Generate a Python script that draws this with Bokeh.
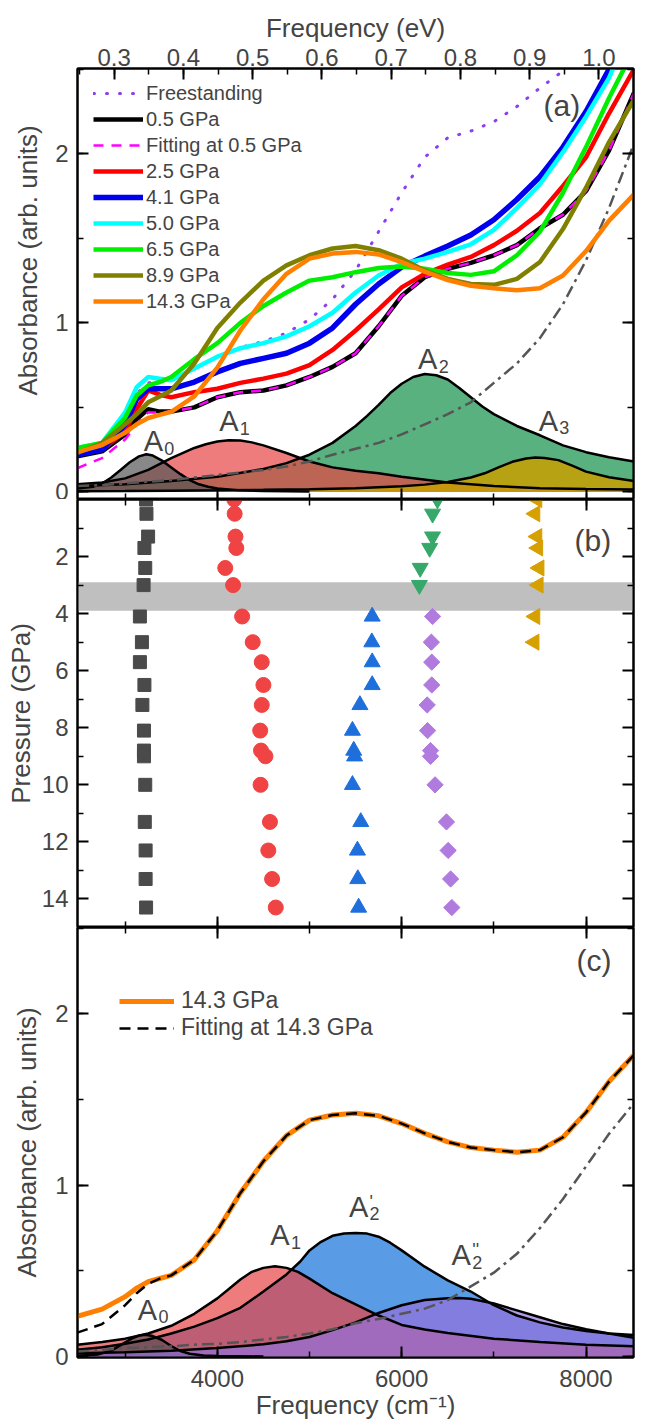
import numpy as np
from bokeh.plotting import figure
from bokeh.models import (Range1d, LinearAxis, SingleIntervalTicker, FixedTicker,
                          PrintfTickFormatter, Legend, LegendItem, Label, BoxAnnotation, Title)
from bokeh.layouts import column
from bokeh.embed import file_html
from bokeh.resources import INLINE

FONT = "Liberation Sans"

# ---------------- data ----------------
freq = [2480, 2750, 3000, 3125, 3250, 3375, 3500, 3750, 4000, 4250, 4500, 4750, 5000,
        5250, 5500, 5750, 6000, 6250, 6500, 6750, 7000, 7250, 7500, 7750, 8000, 8250, 8520]

abs_free = [0.245, 0.28, 0.44, 0.58, 0.645, 0.65, 0.66, 0.73, 0.80, 0.855, 0.89, 0.94, 1.02,
            1.14, 1.31, 1.54, 1.77, 1.98, 2.095, 2.135, 2.19, 2.28, 2.39, 2.49, 2.6, 2.72, 2.85]
abs_05 = [0.21, 0.24, 0.34, 0.43, 0.49, 0.475, 0.475, 0.50, 0.56, 0.59, 0.60, 0.63, 0.68,
          0.74, 0.82, 0.98, 1.16, 1.27, 1.32, 1.355, 1.40, 1.46, 1.56, 1.64, 1.78, 2.02, 2.36]
fit_05 = [0.14, 0.20, 0.31, 0.40, 0.47, 0.47, 0.475, 0.50, 0.56, 0.59, 0.60, 0.63, 0.68,
          0.74, 0.82, 0.98, 1.16, 1.27, 1.32, 1.355, 1.40, 1.46, 1.56, 1.64, 1.78, 2.02, 2.36]
abs_25 = [0.22, 0.25, 0.36, 0.49, 0.60, 0.575, 0.56, 0.59, 0.61, 0.645, 0.67, 0.70, 0.75,
          0.84, 0.955, 1.08, 1.21, 1.29, 1.345, 1.39, 1.46, 1.545, 1.65, 1.81, 1.98, 2.24, 2.5]
abs_41 = [0.22, 0.25, 0.40, 0.55, 0.61, 0.61, 0.61, 0.65, 0.71, 0.76, 0.79, 0.82, 0.88,
          0.97, 1.11, 1.23, 1.33, 1.395, 1.455, 1.52, 1.61, 1.73, 1.865, 2.04, 2.25, 2.50, 2.9]
abs_50 = [0.26, 0.29, 0.47, 0.62, 0.68, 0.67, 0.66, 0.73, 0.80, 0.85, 0.88, 0.92, 0.98,
          1.06, 1.18, 1.28, 1.35, 1.38, 1.42, 1.465, 1.55, 1.68, 1.82, 2.01, 2.22, 2.45, 2.8]
abs_65 = [0.26, 0.29, 0.44, 0.57, 0.63, 0.65, 0.68, 0.785, 0.88, 1.0, 1.10, 1.18, 1.25,
          1.27, 1.30, 1.325, 1.333, 1.32, 1.295, 1.284, 1.305, 1.40, 1.54, 1.77, 2.04, 2.33, 2.62]
abs_89 = [0.23, 0.29, 0.40, 0.46, 0.53, 0.565, 0.60, 0.76, 0.97, 1.12, 1.25, 1.34, 1.40,
          1.44, 1.455, 1.43, 1.38, 1.31, 1.26, 1.23, 1.225, 1.26, 1.36, 1.555, 1.80, 2.07, 2.32]
abs_143 = [0.235, 0.277, 0.35, 0.40, 0.437, 0.456, 0.474, 0.565, 0.735, 0.955, 1.14, 1.29, 1.38,
           1.41, 1.42, 1.405, 1.36, 1.303, 1.253, 1.22, 1.205, 1.193, 1.205, 1.28, 1.425, 1.605, 1.76]
fit_143 = [0.14, 0.19, 0.30, 0.37, 0.425, 0.455, 0.474, 0.565, 0.735, 0.955, 1.14, 1.29, 1.38,
           1.41, 1.42, 1.405, 1.36, 1.303, 1.253, 1.22, 1.205, 1.193, 1.205, 1.28, 1.425, 1.605, 1.76]

# fitted background (dash-dot)
bg_a = [0.035, 0.04, 0.05, 0.055, 0.06, 0.065, 0.07, 0.085, 0.10, 0.115, 0.13, 0.15, 0.18,
        0.22, 0.255, 0.29, 0.34, 0.40, 0.46, 0.53, 0.645, 0.76, 0.91, 1.11, 1.37, 1.68, 2.06]
bg_c = [0.03, 0.04, 0.05, 0.052, 0.055, 0.058, 0.06, 0.07, 0.075, 0.085, 0.10, 0.115, 0.135,
        0.16, 0.195, 0.22, 0.25, 0.28, 0.33, 0.41, 0.49, 0.60, 0.75, 0.92, 1.11, 1.30, 1.48]

# fitted components, 0.5 GPa (panel a)
freq_a0 = [2480, 2650, 2750, 2850, 2950, 3050, 3150, 3230, 3300, 3400, 3500, 3600, 3700,
           3800, 3900, 4000, 4250, 4500, 5000]
comp_a_A0 = [0.02, 0.03, 0.05, 0.085, 0.13, 0.175, 0.21, 0.223, 0.215, 0.185, 0.145, 0.105,
             0.07, 0.045, 0.03, 0.02, 0.009, 0.005, 0.002]
freq_a1 = [2480, 2750, 3000, 3250, 3500, 3750, 3875, 4000, 4125, 4250, 4375, 4500, 4750, 5000,
           5250, 5500, 5750, 6000, 6500, 7000, 7500, 8000, 8520]
comp_a_A1 = [0.045, 0.055, 0.08, 0.13, 0.20, 0.26, 0.282, 0.298, 0.306, 0.304, 0.293, 0.275,
             0.23, 0.18, 0.145, 0.125, 0.11, 0.09, 0.055, 0.035, 0.022, 0.017, 0.014]
freq_a2 = [2480, 3000, 3500, 4000, 4500, 4750, 5000, 5250, 5500, 5625, 5750, 5875, 6000, 6125,
           6250, 6375, 6500, 6625, 6750, 6875, 7000, 7250, 7500, 7750, 8000, 8250, 8520]
comp_a_A2 = [0.035, 0.045, 0.065, 0.09, 0.135, 0.17, 0.22, 0.29, 0.39, 0.45, 0.515, 0.585, 0.64,
             0.68, 0.697, 0.69, 0.665, 0.615, 0.56, 0.505, 0.46, 0.39, 0.335, 0.275, 0.235, 0.205, 0.18]
freq_a3 = [2480, 3000, 3500, 4000, 4500, 5000, 5500, 6000, 6250, 6500, 6750, 6900, 7050, 7200,
           7350, 7450, 7550, 7700, 7850, 8000, 8250, 8520]
comp_a_A3 = [0.004, 0.005, 0.007, 0.009, 0.012, 0.016, 0.022, 0.033, 0.043, 0.058, 0.085, 0.11,
             0.145, 0.178, 0.198, 0.203, 0.2, 0.188, 0.155, 0.12, 0.087, 0.065]

# fitted components, 14.3 GPa (panel c)
freq_c0 = [2480, 2700, 2850, 2960, 3070, 3150, 3220, 3300, 3400, 3500, 3600, 3700, 3850, 4000, 4500]
comp_c_A0 = [0.005, 0.012, 0.035, 0.07, 0.105, 0.123, 0.128, 0.12, 0.097, 0.062, 0.033, 0.017,
             0.007, 0.004, 0.001]
freq_c1 = [2480, 2750, 3000, 3250, 3500, 3750, 4000, 4125, 4250, 4375, 4500, 4625, 4750, 4875,
           5000, 5250, 5500, 5750, 6000, 6250, 6500, 7000, 7500, 8000, 8520]
comp_c_A1 = [0.07, 0.085, 0.105, 0.135, 0.18, 0.25, 0.34, 0.395, 0.45, 0.495, 0.518, 0.527, 0.518,
             0.495, 0.455, 0.37, 0.305, 0.24, 0.185, 0.158, 0.138, 0.105, 0.085, 0.07, 0.06]
freq_c2 = [2480, 2750, 3000, 3250, 3500, 3750, 4000, 4250, 4500, 4750, 4900, 5000, 5125, 5250,
           5375, 5500, 5625, 5750, 5875, 6000, 6250, 6500, 6750, 7000, 7250, 7500, 7750, 8000,
           8250, 8520]
comp_c_A2p = [0.04, 0.055, 0.075, 0.10, 0.135, 0.175, 0.225, 0.285, 0.38, 0.48, 0.555, 0.62, 0.67,
              0.705, 0.718, 0.722, 0.718, 0.70, 0.665, 0.62, 0.525, 0.445, 0.38, 0.30, 0.24, 0.20,
              0.17, 0.15, 0.135, 0.126]
freq_c3 = [2480, 3000, 3500, 4000, 4500, 4750, 5000, 5250, 5500, 5750, 6000, 6250, 6500, 6625,
           6750, 7000, 7250, 7500, 7750, 8000, 8250, 8520]
comp_c_A2pp = [0.02, 0.025, 0.035, 0.05, 0.072, 0.09, 0.115, 0.155, 0.20, 0.255, 0.30, 0.33,
               0.341, 0.342, 0.338, 0.31, 0.27, 0.23, 0.19, 0.16, 0.135, 0.11]

# panel b: peak positions vs pressure
P_all = [0.0, 0.5, 1.3, 1.7, 2.4, 3.0, 4.1, 5.0, 5.7, 6.5, 7.2, 8.1, 8.8, 9.0, 10.0, 11.3, 12.3, 13.3, 14.3]
F_A0 = [3227, 3231, 3249, 3209, 3218, 3200, 3160, 3182, 3160, 3209, 3187, 3204, 3204, 3204, 3218,
        3213, 3222, 3222, 3227]
F_A1 = [4184, 4188, 4197, 4206, 4086, 4171, 4269, 4384, 4482, 4500, 4482, 4465, 4474, 4522, 4469,
        4571, 4553, 4594, 4634]
P_low = [0.0, 0.5, 1.3, 1.7, 2.4, 3.0]
F_A2 = [6388, 6335, 6335, 6304, 6201, 6192]
P_A3 = [0.0, 0.5, 1.3, 1.7, 2.4, 3.0, 4.1, 5.0]
F_A3 = [7470, 7448, 7470, 7479, 7493, 7484, 7448, 7439]
P_high = [4.1, 5.0, 5.7, 6.5, 7.2, 8.1, 8.8, 9.0, 10.0, 11.3, 12.3, 13.3, 14.3]
F_A2p = [5680, 5676, 5680, 5680, 5547, 5466, 5480, 5489, 5466, 5556, 5520, 5524, 5533]
F_A2pp = [6335, 6322, 6326, 6326, 6277, 6281, 6313, 6313, 6362, 6486, 6504, 6531, 6544]
band_lo, band_hi = 2.9, 3.9
p_ticks = [2, 4, 6, 8, 10, 12, 14]
p_minor = [1, 3, 5, 7, 9, 11, 13, 15]

# ---------------- helpers ----------------
W = 641
x_rng = Range1d(2483, 8515)
ev_rng = Range1d(0.247, 1.05)
TICK_FS = "24px"


def base_fig(h, y_rng, top, bottom):
    p = figure(width=W, height=h, x_range=x_rng, y_range=y_rng, output_backend="svg",
               toolbar_location=None, x_axis_location=None, y_axis_location=None,
               min_border_left=76, min_border_right=8, min_border_top=top,
               min_border_bottom=bottom)
    p.outline_line_color = "black"
    p.outline_line_width = 2
    p.outline_line_alpha = 1
    p.grid.visible = False
    return p


def axis(ticker, labels, standoff=9, **kw):
    ax = LinearAxis(ticker=ticker, **kw)
    ax.axis_line_width = 2
    ax.major_tick_in = 11
    ax.major_tick_out = 0
    ax.minor_tick_in = 6
    ax.minor_tick_out = 0
    ax.major_tick_line_width = 2
    ax.minor_tick_line_width = 1.5
    ax.major_label_text_font = FONT
    ax.axis_label_text_font = FONT
    ax.axis_label_text_font_style = "normal"
    ax.axis_label_text_font_size = "26px"
    ax.axis_label_standoff = 0
    if labels:
        ax.major_label_text_font_size = TICK_FS
        ax.major_label_standoff = standoff
    else:
        ax.major_label_text_font_size = "1px"
        ax.major_label_text_color = None
        ax.major_label_standoff = 0
    return ax


def xt():
    return SingleIntervalTicker(interval=2000, num_minor_ticks=2)


def yt(step):
    return SingleIntervalTicker(interval=step, num_minor_ticks=2)


def pt():
    return FixedTicker(ticks=p_ticks, minor_ticks=p_minor)


LBL_SHIFT = 11  # compensates the baseline placement of the peak labels


def peak_label(p, xs, ys, sub, dx, dy, prime=None):
    i = int(np.argmax(ys))
    x0, y0 = xs[i], ys[i]
    dy = dy + LBL_SHIFT
    p.add_layout(Label(x=x0, y=y0, x_offset=dx, y_offset=dy, text="A", text_font=FONT,
                       text_font_size="29px", text_align="center", text_baseline="alphabetic"))
    p.add_layout(Label(x=x0, y=y0, x_offset=dx + 11, y_offset=dy - 7, text=sub, text_font=FONT,
                       text_font_size="18px", text_align="left", text_baseline="alphabetic"))
    if prime:
        p.add_layout(Label(x=x0, y=y0, x_offset=dx + 11, y_offset=dy + 5, text=prime,
                           text_font=FONT, text_font_size="18px", text_align="left",
                           text_baseline="alphabetic"))


def panel_tag(p, text, x, y):
    p.add_layout(Label(x=x, y=y, x_units="screen", y_units="screen", text=text, text_font=FONT,
                       text_font_size="30px", text_align="left", text_baseline="middle"))


def style_legend(leg, fs, gw, lh, standoff):
    leg.label_text_font = FONT
    leg.label_text_font_size = fs
    leg.glyph_width = gw
    leg.glyph_height = 20
    leg.label_height = lh
    leg.label_standoff = standoff
    leg.spacing = 0
    leg.padding = 0
    leg.margin = 0
    leg.border_line_color = None
    leg.background_fill_alpha = 0


# ---------------- panel (a) ----------------
pa = base_fig(499, Range1d(-0.045, 2.505), 68, 0)
pa.extra_x_ranges = {"ev": ev_rng}
top_ax = axis(SingleIntervalTicker(interval=0.1, num_minor_ticks=2), True, standoff=3,
              x_range_name="ev", formatter=PrintfTickFormatter(format="%.1f"),
              axis_label="Frequency (eV)")
top_ax.axis_label_standoff = 3
pa.add_layout(top_ax, "above")
pa.add_layout(axis(xt(), False), "below")
pa.add_layout(axis(yt(1), True), "left")
pa.add_layout(axis(yt(1), False), "right")
pa.add_layout(Title(text="Absorbance (arb. units)", align="left", offset=104,
                    vertical_align="bottom", standoff=20, text_font=FONT,
                    text_font_size="26px", text_font_style="normal"), "left")

pa.varea(x=freq_a2, y1=0, y2=comp_a_A2, fill_color="#2e9e5e", fill_alpha=0.8)
pa.varea(x=freq_a1, y1=0, y2=comp_a_A1, fill_color="#e84545", fill_alpha=0.7)
pa.varea(x=freq_a0, y1=0, y2=comp_a_A0, fill_color="#555555", fill_alpha=0.7)
pa.varea(x=freq_a3, y1=0, y2=comp_a_A3, fill_color="#c8a000", fill_alpha=0.85)
for xs, ys in [(freq_a2, comp_a_A2), (freq_a1, comp_a_A1), (freq_a0, comp_a_A0), (freq_a3, comp_a_A3)]:
    pa.line(xs, ys, line_color="black", line_width=2.5)
pa.line(freq, bg_a, line_color="#555555", line_width=2.5, line_dash="12 5 3 5")

r_fs = pa.line(freq, abs_free, line_color="#8a3ff0", line_width=3, line_dash="1 12", line_cap="round")
r05 = pa.line(freq, abs_05, line_color="black", line_width=4.5)
rfit = pa.line(freq, fit_05, line_color="#ff00ff", line_width=2.5, line_dash="10 8")
r25 = pa.line(freq, abs_25, line_color="#ff0000", line_width=4.5)
r41 = pa.line(freq, abs_41, line_color="#0000ee", line_width=5.5)
r50 = pa.line(freq, abs_50, line_color="#00ffff", line_width=4.5)
r65 = pa.line(freq, abs_65, line_color="#00ee00", line_width=4.5)
r89 = pa.line(freq, abs_89, line_color="#808000", line_width=4.5)
r143a = pa.line(freq, abs_143, line_color="#ff8000", line_width=4.5)

leg_a = Legend(items=[LegendItem(label="Freestanding", renderers=[r_fs]),
                      LegendItem(label="0.5 GPa", renderers=[r05]),
                      LegendItem(label="Fitting at 0.5 GPa", renderers=[rfit]),
                      LegendItem(label="2.5 GPa", renderers=[r25]),
                      LegendItem(label="4.1 GPa", renderers=[r41]),
                      LegendItem(label="5.0 GPa", renderers=[r50]),
                      LegendItem(label="6.5 GPa", renderers=[r65]),
                      LegendItem(label="8.9 GPa", renderers=[r89]),
                      LegendItem(label="14.3 GPa", renderers=[r143a])],
               location=(16, 185))
style_legend(leg_a, "20px", 50, 26, 3)
pa.add_layout(leg_a)

peak_label(pa, freq_a0, comp_a_A0, "0", 7, 2)
peak_label(pa, freq_a1, comp_a_A1, "1", 0, 8)
peak_label(pa, freq_a2, comp_a_A2, "2", 3, 4)
peak_label(pa, freq_a3, comp_a_A3, "3", 13, 26)
panel_tag(pa, "(a)", 466, 394)

# ---------------- panel (b) ----------------
pb = base_fig(428, Range1d(15, 0), 0, 0)
pb.add_layout(axis(xt(), False), "above")
pb.add_layout(axis(xt(), False), "below")
left_b = axis(pt(), True, axis_label="Pressure (GPa)")
left_b.axis_label_standoff = 3
pb.add_layout(left_b, "left")
pb.add_layout(axis(pt(), False), "right")
pb.add_layout(BoxAnnotation(bottom=band_lo, top=band_hi, fill_color="#bfbfbf", fill_alpha=1,
                            line_color=None, level="underlay"))
pb.scatter(F_A0, P_all, marker="square", size=13, color="#4a4a4a")
pb.scatter(F_A1, P_all, marker="circle", size=15, color="#f04343")
pb.scatter(F_A2p, P_high, marker="triangle", size=16, color="#1e6fdc")
pb.scatter(F_A2pp, P_high, marker="square", angle=np.pi / 4, size=11.5, color="#b07ade")
pb.scatter(F_A2, P_low, marker="inverted_triangle", size=16, color="#35a86a")
pb.scatter(F_A3, P_A3, marker="triangle", angle=np.pi / 2, size=16, color="#d6a000")
panel_tag(pb, "(b)", 497, 387)

# ---------------- panel (c) ----------------
pc = base_fig(498, Range1d(-0.005, 2.504), 0, 68)
pc.add_layout(axis(xt(), False), "above")
bot_ax = axis(xt(), True, standoff=12, axis_label="Frequency (cm\u207b\u00b9)")
pc.add_layout(bot_ax, "below")
left_c = axis(yt(1), True, axis_label="Absorbance (arb. units)")
left_c.axis_label_standoff = 10
pc.add_layout(left_c, "left")
pc.add_layout(axis(yt(1), False), "right")

pc.varea(x=freq_c2, y1=0, y2=comp_c_A2p, fill_color="#3d8ae0", fill_alpha=0.85)
pc.varea(x=freq_c1, y1=0, y2=comp_c_A1, fill_color="#e84545", fill_alpha=0.7)
pc.varea(x=freq_c0, y1=0, y2=comp_c_A0, fill_color="#4d4d4d", fill_alpha=0.6)
pc.varea(x=freq_c3, y1=0, y2=comp_c_A2pp, fill_color="#9370db", fill_alpha=0.7)
for xs, ys in [(freq_c2, comp_c_A2p), (freq_c1, comp_c_A1), (freq_c0, comp_c_A0), (freq_c3, comp_c_A2pp)]:
    pc.line(xs, ys, line_color="black", line_width=2.5)
pc.line(freq, bg_c, line_color="#555555", line_width=2.5, line_dash="12 5 3 5")
r143c = pc.line(freq, abs_143, line_color="#ff8000", line_width=5)
rfitc = pc.line(freq, fit_143, line_color="black", line_width=2.5, line_dash="11 7")

leg_c = Legend(items=[LegendItem(label="14.3 GPa", renderers=[r143c]),
                      LegendItem(label="Fitting at 14.3 GPa", renderers=[rfitc])],
               location=(42, 316))
style_legend(leg_c, "23px", 55, 27, 7)
pc.add_layout(leg_c)

peak_label(pc, freq_c0, comp_c_A0, "0", 2, 14)
peak_label(pc, freq_c1, comp_c_A1, "1", 5, 20)
peak_label(pc, freq_c2, comp_c_A2p, "2", 3, 15, prime="'")
peak_label(pc, freq_c3, comp_c_A2pp, "2", 2, 32, prime="''")
panel_tag(pc, "(c)", 499, 397)

layout = column(pa, pb, pc, spacing=0)
open("out.html", "w").write(file_html(layout, INLINE))
